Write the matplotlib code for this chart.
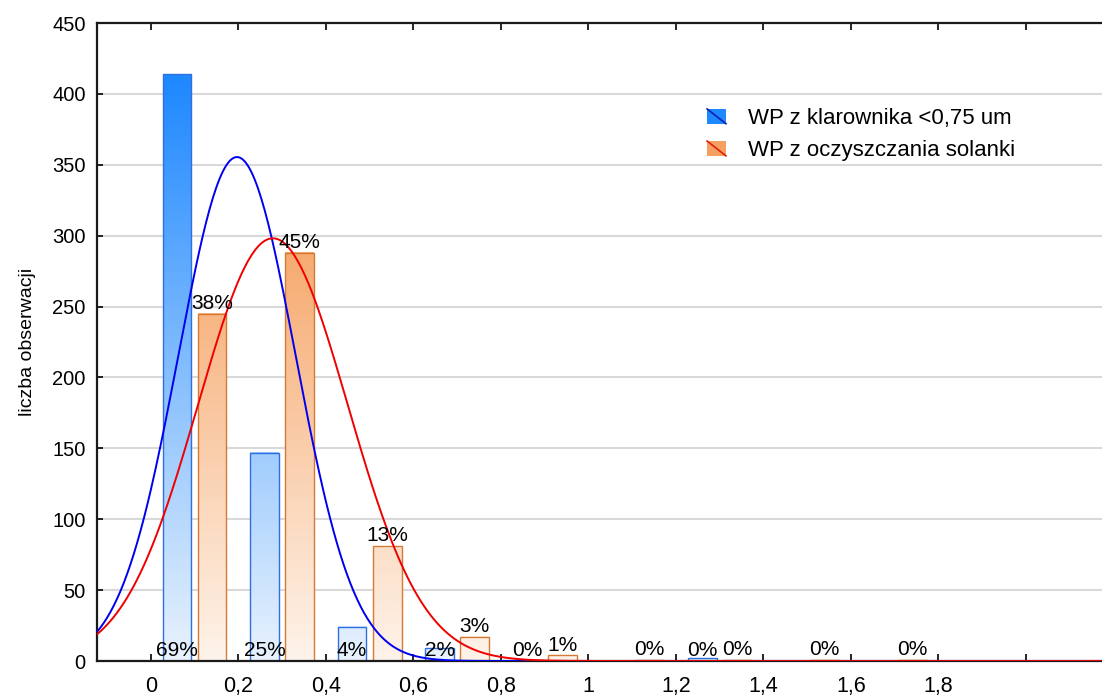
import numpy as np
import matplotlib
matplotlib.use('Agg')
import matplotlib.pyplot as plt
from matplotlib.colors import LinearSegmentedColormap
from matplotlib.patches import Rectangle
from matplotlib.lines import Line2D
from matplotlib.legend_handler import HandlerBase

plt.rcParams['font.family'] = ['Liberation Sans', 'DejaVu Sans']

# dane: liczebnosci w przedzialach o szerokosci 0,2
srodki = [0.1, 0.3, 0.5, 0.7, 0.9, 1.1, 1.3, 1.5, 1.7]
klarownik = [414, 147, 24, 9, 1, 0, 2, 0, 0]
solanka = [245, 288, 81, 17, 4, 1, 1, 1, 1]
szer_przedzialu = 0.2

# parametry dopasowanych rozkladow normalnych
klar_srednia, klar_odch = 0.197, 0.134
sol_srednia, sol_odch = 0.279, 0.171

etykiety_x = ['0', '0,2', '0,4', '0,6', '0,8', '1', '1,2', '1,4', '1,6', '1,8', '']
serie_nazwy = ['WP z klarownika <0,75 um', 'WP z oczyszczania solanki']

cm_blue = LinearSegmentedColormap.from_list('nieb', ['#E8F2FD', '#1E88FF'])
cm_orange = LinearSegmentedColormap.from_list('pom', ['#FEF3EA', '#F6A86C'])


class SlashBox(HandlerBase):
    def create_artists(self, legend, orig_handle, xdescent, ydescent,
                       width, height, fontsize, trans):
        r = Rectangle((-xdescent, -ydescent), width, height,
                      facecolor=orig_handle.face, edgecolor='none', transform=trans)
        l = Line2D([-xdescent, -xdescent + width], [-ydescent + height, -ydescent],
                   color=orig_handle.line, lw=1.2, transform=trans)
        return [r, l]


class Klucz:
    def __init__(self, face, line):
        self.face = face
        self.line = line


fig = plt.figure(figsize=(11.02, 7.0), dpi=100)
ax = fig.add_axes([0.088, 0.0557, 0.912, 0.9114])

xmin, xmax = -0.123, 2.174
w = 0.066
off = 0.04


def slupki(vals, shift, cmap, edge, top_max):
    for c, v in zip(srodki, vals):
        if v <= 0:
            continue
        x0 = c + shift - w / 2
        grad = np.linspace(v / top_max, 0, 100).reshape(-1, 1)
        grad = np.clip(grad, 0, 1)
        ax.imshow(grad, cmap=cmap, vmin=0, vmax=1, extent=[x0, x0 + w, 0, v],
                  aspect='auto', interpolation='bilinear', zorder=2)
        ax.add_patch(Rectangle((x0, 0), w, v, facecolor='none', edgecolor=edge,
                               lw=1.0, zorder=2.5))


slupki(klarownik, -off, cm_blue, '#2F6FE0', 414)
slupki(solanka, off, cm_orange, '#D47A34', 300)

# krzywe rozkladu normalnego
xs = np.linspace(xmin, xmax, 600)
for n_obs, m, s, kol in [(sum(klarownik), klar_srednia, klar_odch, '#0000F0'),
                         (sum(solanka), sol_srednia, sol_odch, '#F00000')]:
    ys = n_obs * szer_przedzialu / (s * np.sqrt(2 * np.pi)) * np.exp(-0.5 * ((xs - m) / s) ** 2)
    ax.plot(xs, ys, color=kol, lw=1.4, zorder=3)

# etykiety procentowe
n_k = sum(klarownik)
n_s = sum(solanka)
for c, v in zip(srodki, klarownik):
    if v > 0:
        ax.text(c - off, 0.5, f'{round(100 * v / n_k)}%', ha='center', va='bottom',
                fontsize=15, zorder=4)
for c, v in zip(srodki, solanka):
    if v > 0:
        ax.text(c + off, v + 0.5, f'{round(100 * v / n_s)}%', ha='center', va='bottom',
                fontsize=15, zorder=4)

ax.set_xlim(xmin, xmax)
ax.set_ylim(0, 450)
ax.set_xticks(np.arange(0, 2.01, 0.2))
ax.set_xticklabels(etykiety_x)
ax.set_yticks(range(0, 451, 50))
ax.yaxis.grid(True, color='#D9D9D9', lw=1.5)
ax.set_axisbelow(True)

for sp in ['top', 'bottom', 'left']:
    ax.spines[sp].set_color('#1A1A1A')
    ax.spines[sp].set_linewidth(1.6)
ax.spines['right'].set_visible(False)
ax.tick_params(axis='x', direction='in', length=5, width=1.2, pad=11,
               labelsize=15.5, top=True)
ax.tick_params(axis='y', direction='in', length=4, width=1.2, pad=8, labelsize=14.5)
ax.set_ylabel('liczba obserwacji', fontsize=14, labelpad=12)

klucze = [Klucz('#1E88FF', '#1020B0'), Klucz('#F5A060', '#E02010')]
ax.legend(klucze, serie_nazwy, handler_map={Klucz: SlashBox()}, loc='upper left',
          bbox_to_anchor=(0.596, 0.884), frameon=False, fontsize=16, borderpad=0,
          handlelength=0.85, handleheight=0.65, handletextpad=1.0, labelspacing=0.5)

fig.savefig('out.png', dpi=100)
